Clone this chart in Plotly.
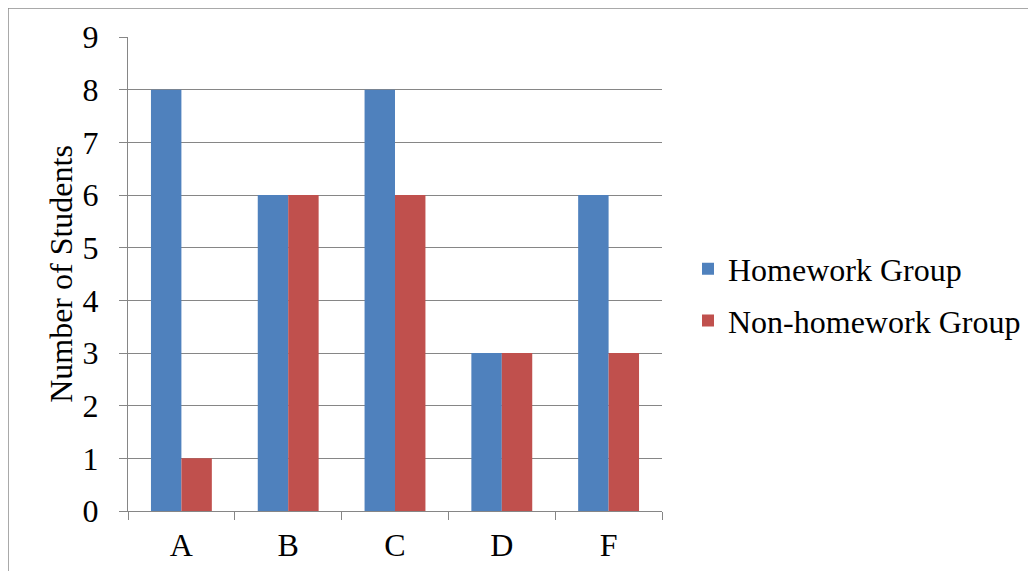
import plotly.graph_objects as go

categories = ["A", "B", "C", "D", "F"]
homework = [8, 6, 8, 3, 6]
non_homework = [1, 6, 6, 3, 3]

# page offset from default body margin
OFF = 8
W, H = 1020, 563
FONT = "Liberation Serif"
FS = 32
GRID = "#868686"
BORDER = "#8c8c8c"


def px(x):
    return (x - OFF) / W


def py(y):
    return 1 - (y - OFF) / H


fig = go.Figure()
fig.add_trace(go.Bar(x=categories, y=homework, name="Homework Group",
                     legendgroup="a",
                     marker=dict(color="#4F81BD", line=dict(width=0))))
fig.add_trace(go.Bar(x=categories, y=non_homework, name="Non-homework Group",
                     legendgroup="b",
                     marker=dict(color="#C0504D", line=dict(width=0))))

fig.update_layout(
    width=W, height=H,
    margin=dict(l=0, r=0, t=0, b=0, autoexpand=False),
    paper_bgcolor="white", plot_bgcolor="white",
    barmode="group", bargap=0.43, bargroupgap=0,
    font=dict(family=FONT, size=FS, color="black"),
    showlegend=True,
    legend=dict(x=px(688), y=py(295), xanchor="left", yanchor="middle",
                font=dict(family=FONT, size=FS), bgcolor="rgba(0,0,0,0)",
                tracegroupgap=7, itemwidth=30),
    xaxis=dict(domain=[px(128), px(662)], range=[-0.5, 4.5], type="category",
               automargin=False,
               showline=True, linecolor=GRID, linewidth=1,
               ticks="outside", ticklen=8, tickcolor=GRID, tickson="boundaries",
               showgrid=False, tickfont=dict(family=FONT, size=FS),
               ticklabelstandoff=6),
    yaxis=dict(domain=[py(511), py(37)], range=[0, 9], dtick=1,
               automargin=False,
               showline=True, linecolor=GRID, linewidth=1,
               ticks="outside", ticklen=8, tickcolor=GRID,
               showgrid=True, gridcolor=GRID, gridwidth=1, zeroline=False,
               tickfont=dict(family=FONT, size=FS), ticklabelstandoff=14,
               title=dict(text="Number of Students", font=dict(family=FONT, size=FS),
                          standoff=0)),
    shapes=[
        dict(type="line", xref="paper", yref="paper", x0=0, x1=1, y0=1, y1=1,
             line=dict(color=BORDER, width=1.5)),
        dict(type="line", xref="paper", yref="paper", x0=0, x1=0, y0=0, y1=1,
             line=dict(color=BORDER, width=1.5)),
    ],
)

fig.write_html("out.html")
